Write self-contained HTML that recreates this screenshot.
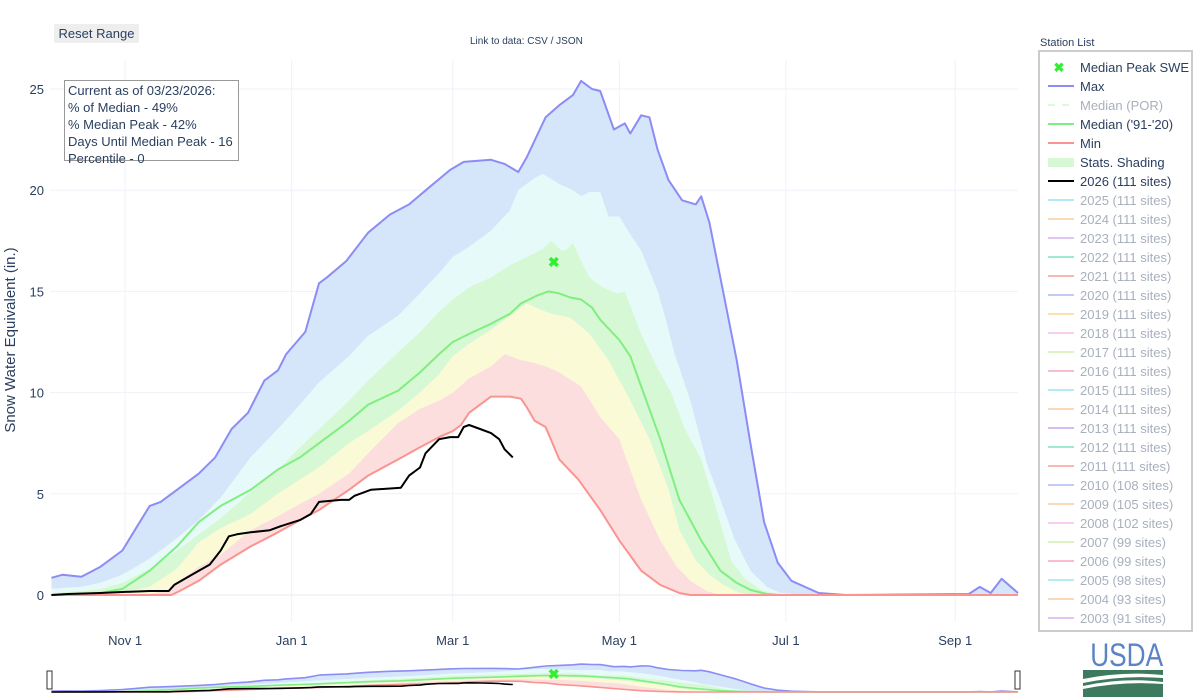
<!DOCTYPE html>
<html><head><meta charset="utf-8">
<style>
body{margin:0;background:#fff;font-family:"Liberation Sans",sans-serif;}
#wrap{position:relative;width:1200px;height:700px;overflow:hidden;}
svg text{font-family:"Liberation Sans",sans-serif;}
</style></head>
<body>
<div id="wrap">
<svg id="chart" width="1200" height="700"></svg>
</div>
<script>
// ---- data (day of water year, Oct 1 = day 0) ----
const maxDays=[4,8,15,22,30,35,40,44,50,58,64,70,76,82,87,90,97,102,105,112,120,128,135,142,150,155,165,170,175,178,185,190,195,198,202,205,210,214,216,220,223,226,230,235,240,242,245,250,255,260,265,270,275,285,295,340,344,348,352,358];
const maxVals=[0.85,1.0,0.9,1.4,2.2,3.3,4.4,4.6,5.2,6.0,6.8,8.2,9.0,10.6,11.1,11.9,13.0,15.4,15.7,16.5,17.9,18.8,19.3,20.1,21.0,21.4,21.5,21.3,20.9,21.6,23.6,24.2,24.7,25.4,25.0,24.9,23.0,23.3,22.8,23.7,23.6,22.0,20.5,19.5,19.3,19.7,18.4,15.0,11.6,7.5,3.6,1.6,0.7,0.1,0,0.05,0.4,0.1,0.8,0.1];
const p90Days=[4,15,22,30,40,50,58,66,77,87,95,102,113,120,131,139,146,151,157,165,172,175,181,184,190,195,198,201,205,208,212,216,220,226,229,232,238,244,249,254,260,266,271,280,358];
const p90Vals=[0.3,0.4,0.6,1.0,1.8,2.8,3.7,4.8,6.8,8.2,9.4,10.5,11.8,12.8,13.8,14.9,15.9,16.7,17.2,18.0,19.0,20.0,20.6,20.8,20.3,20.0,19.7,19.9,19.9,18.7,18.7,17.8,17.0,15.0,13.6,12.0,9.6,6.5,4.7,2.8,1.2,0.4,0.1,0,0];
const p70Days=[4,15,22,30,40,50,58,66,77,87,95,102,113,120,131,139,146,151,157,165,172,178,184,187,191,193,195,198,201,206,211,214,220,226,231,236,242,247,253,258,264,270,280,358];
const p70Vals=[0.1,0.2,0.3,0.6,1.3,2.2,3.0,3.8,5.1,6.2,7.3,8.2,9.6,10.6,12.0,13.0,14.0,14.6,15.2,15.7,16.3,16.7,17.1,17.5,17.0,17.1,17.4,16.5,15.7,15.2,14.9,15.0,12.9,11.2,10.0,8.2,6.7,4.5,1.7,0.8,0.25,0.05,0,0];
const medDays=[4,15,22,30,40,50,58,66,77,87,95,102,113,120,131,139,146,151,157,165,172,176,182,186,190,194,198,202,205,212,216,220,227,234,242,249,255,260,266,271,358];
const medVals=[0,0.05,0.1,0.3,1.2,2.4,3.6,4.4,5.2,6.2,6.8,7.5,8.6,9.4,10.1,11.0,11.9,12.5,12.9,13.4,13.9,14.4,14.8,15.0,14.9,14.7,14.6,14.2,13.6,12.6,11.8,10.3,7.7,4.7,2.7,1.2,0.6,0.25,0.05,0,0];
const p30Days=[4,22,30,40,50,58,66,77,87,95,102,113,120,131,139,146,151,157,165,172,178,183,187,194,201,208,216,223,230,234,240,245,250,256,262,358];
const p30Vals=[0,0.05,0.1,0.4,1.3,2.6,3.3,4.0,5.0,5.7,6.3,7.5,8.1,9.1,10.0,10.9,11.8,12.4,13.1,13.8,14.4,14.1,13.9,13.7,12.9,11.6,9.6,7.7,5.2,3.2,1.7,1.0,0.5,0.1,0,0];
const p10Days=[4,30,40,48,51,58,66,77,87,95,102,113,120,131,139,146,151,157,165,170,176,180,185,190,198,205,212,220,227,233,238,244,249,358];
const p10Vals=[0,0,0.05,0.3,0.7,1.4,2.0,3.2,3.9,4.5,5.0,6.0,7.0,8.5,9.2,9.6,10.0,10.7,11.3,11.9,11.6,11.5,11.3,11.0,10.3,8.8,7.7,4.7,2.7,1.4,0.7,0.2,0,0];
const minDays=[4,48,51,58,66,77,87,95,102,113,120,131,139,146,151,154,157,165,172,176,178,181,185,190,197,205,212,220,227,234,238,358];
const minVals=[0,0,0.2,0.7,1.5,2.4,3.1,3.7,4.2,5.2,5.9,6.7,7.3,7.8,8.1,8.4,9.0,9.8,9.8,9.7,9.3,8.6,8.3,6.7,5.7,4.2,2.7,1.2,0.5,0.1,0,0];
const curDays=[4,10,22,30,40,47,49,58,62,66,69,72,77,84,88,95,99,102,110,113,115,121,132,135,139,141,146,150,153,155,157,161,165,168,170,173];
const curVals=[0,0.05,0.1,0.15,0.2,0.2,0.5,1.2,1.5,2.2,2.9,3.0,3.1,3.2,3.4,3.7,4.0,4.6,4.7,4.7,4.9,5.2,5.3,5.9,6.3,7.0,7.7,7.8,7.8,8.3,8.4,8.2,8.0,7.7,7.2,6.8];
const peakDay=[188];
const peakVal=[16.45];
const yTicks=[0,5,10,15,20,25];
const xTickDays=[31,92,151,212,273,335];
const xTickLabels=["Nov  1","Jan  1","Mar  1","May  1","Jul  1","Sep  1"];
const legendLabels=["2025 (111 sites)","2024 (111 sites)","2023 (111 sites)","2022 (111 sites)","2021 (111 sites)","2020 (111 sites)","2019 (111 sites)","2018 (111 sites)","2017 (111 sites)","2016 (111 sites)","2015 (111 sites)","2014 (111 sites)","2013 (111 sites)","2012 (111 sites)","2011 (111 sites)","2010 (108 sites)","2009 (105 sites)","2008 (102 sites)","2007 (99 sites)","2006 (99 sites)","2005 (98 sites)","2004 (93 sites)","2003 (91 sites)"];
const legendColors=["#7fdcf5","#fbc08a","#c9a0f0","#5fdcb0","#f58a8a","#9aa8f5","#f8d27a","#f5b0e8","#c5ec9a","#f590b0","#7fe0f0","#fbc08a","#b890f5","#5fdcb0","#f58a8a","#9aa8f5","#fbc08a","#f5b0e8","#c5ec9a","#f590b0","#7fe0f0","#fbc08a","#c9a0f0"];

const NS="http://www.w3.org/2000/svg";
const svg=document.getElementById('chart');
function el(tag,attrs,parent){const e=document.createElementNS(NS,tag);for(const k in attrs)e.setAttribute(k,attrs[k]);(parent||svg).appendChild(e);return e;}
const X0=50,X1=1018,D0=3.5,D1=358;
function xs(d){return X0+(d-D0)/(D1-D0)*(X1-X0);}
function ys(v){return 595-v*20.24;}
function ysMini(v){return 692-v*1.1;}

yTicks.forEach(t=>{
  const g=el('line',{x1:X0,x2:X1,y1:ys(t),y2:ys(t),stroke:t===0?'#e4e9f0':'#eef2f7','stroke-width':1});
  
  
  const tx=el('text',{x:44,y:ys(t)+5,'text-anchor':'end','font-size':13,fill:'#2a3f5f'});
  tx.textContent=t;
  
  
});
xTickDays.forEach((d,i)=>{
  const g=el('line',{x1:xs(d),x2:xs(d),y1:60,y2:622,stroke:'#eef2f7','stroke-width':1});
  
  
  const tx=el('text',{x:xs(d),y:645,'text-anchor':'middle','font-size':13,fill:'#2a3f5f','xml:space':'preserve'});
  tx.textContent=xTickLabels[i];
  
  
});

function pts(days,vals,yf){return days.map((d,i)=>xs(Math.min(Math.max(d,D0),D1)).toFixed(1)+','+yf(vals[i]).toFixed(1));}
function band(uD,uV,lD,lV,color,name,yf){
  const p=pts(uD,uV,yf).concat(pts(lD,lV,yf).reverse());
  const e=el('polygon',{points:p.join(' '),fill:color,stroke:'none'});
  
  
}
function line(days,vals,color,w,name,yf){
  const e=el('polyline',{points:pts(days,vals,yf).join(' '),fill:'none',stroke:color,'stroke-width':w,'stroke-linejoin':'round'});
  
  
}
function drawAll(yf,sc){
  band(maxDays,maxVals,p90Days,p90Vals,'#d6e6fa','band-max-p90',yf);
  band(p90Days,p90Vals,p70Days,p70Vals,'#e6fafa','band-p90-p70',yf);
  band(p70Days,p70Vals,p30Days,p30Vals,'#d7f8d5','band-p70-p30',yf);
  band(p30Days,p30Vals,p10Days,p10Vals,'#fafad7','band-p30-p10',yf);
  band(p10Days,p10Vals,minDays,minVals,'#fcdede','band-p10-min',yf);
  line(maxDays,maxVals,'#8c8cf5',2*sc,'max-line',yf);
  line(medDays,medVals,'#80ee80',2*sc,'median-line',yf);
  line(minDays,minVals,'#f99490',2*sc,'min-line',yf);
  line(curDays,curVals,'#000',2*sc,'current-year-line',yf);
  peakDay.forEach((d,i)=>{
    const t=el('text',{x:xs(d),y:yf(peakVal[i])+5,'text-anchor':'middle','font-size':sc>0.7?14:11,'font-weight':'bold',fill:'#33ee33'});
    t.textContent='✖';
    
    
  });
}
drawAll(ys,1);

const rs=el('rect',{x:X0,y:660,width:X1-X0,height:34,fill:'#fff',stroke:'none'});


drawAll(ysMini,0.8);
[[X0-3,'range-handle-left'],[X1-3,'range-handle-right']].forEach(h=>{
  const r=el('rect',{x:h[0],y:671,width:5,height:18,fill:'#fff',stroke:'#333','stroke-width':1});
  
  
});

const yt=el('text',{x:15,y:340,'text-anchor':'middle','font-size':15,fill:'#2a3f5f',transform:'rotate(-90 15 340)'});
yt.textContent='Snow Water Equivalent (in.)';



const lg=document.createElementNS(NS,'g');


svg.appendChild(lg);
el('rect',{x:1039,y:51,width:153,height:580,fill:'#fff',stroke:'#ccc','stroke-width':2},lg);
const st=el('text',{x:1040,y:46,'font-size':11,fill:'#2a3f5f'},lg);
st.textContent='Station List';


const fixedLeg=[['Median Peak SWE','marker','#33ee33',false],['Max','line','#8c8cf5',false],['Median (POR)','dash','#c8f5c8',true],["Median ('91-'20)",'line','#80ee80',false],['Min','line','#f99490',false],['Stats. Shading','box','#d7f8d5',false],['2026 (111 sites)','line','#000',false]];
function legendEntry(i,label,type,color,faded){
  const y=67+i*19;
  const g=document.createElementNS(NS,'g');
  
  
  lg.appendChild(g);
  if(type==='marker'){const t=el('text',{x:1059,y:y+5,'text-anchor':'middle','font-size':13,'font-weight':'bold',fill:color},g);t.textContent='✖';}
  else if(type==='box'){el('rect',{x:1048,y:y-4,width:26,height:9,fill:color},g);}
  else{el('line',{x1:1048,x2:1074,y1:y,y2:y,stroke:color,'stroke-width':2,'stroke-dasharray':type==='dash'?'7,7':'none',opacity:faded?0.6:1},g);}
  const t=el('text',{x:1080,y:y+5,'font-size':13,fill:faded?'#a8b0bd':'#2a3f5f'},g);
  t.textContent=label;
}
fixedLeg.forEach((f,i)=>legendEntry(i,f[0],f[1],f[2],f[3]));
legendLabels.forEach((l,i)=>legendEntry(i+7,l,'line',legendColors[i],true));
</script>
<div style="position:absolute;left:54px;top:24px;width:85px;height:19px;background:#eee;border-radius:2px;font-size:13px;color:#2a3f5f;text-align:center;line-height:19px;">Reset Range</div>
<div style="position:absolute;left:470px;top:36px;font-size:10px;color:#2a3f5f;">Link to data: CSV / JSON</div>
<div style="position:absolute;left:64px;top:80px;width:175px;height:81px;border:1px solid #999;background:#fff;font-size:13px;color:#2a3f5f;line-height:17px;padding:1px 0 0 3px;box-sizing:border-box;">Current as of 03/23/2026:<br>% of Median - 49%<br>% Median Peak - 42%<br>Days Until Median Peak - 16<br>Percentile - 0</div>
<div style="position:absolute;left:1083px;top:640px;width:80px;height:58px;">
<div style="font-size:32px;line-height:30px;color:#5a84c4;font-family:'Liberation Sans Narrow','Liberation Sans',sans-serif;text-align:center;transform:scaleX(0.82);transform-origin:center;">USDA</div>
<svg width="80" height="27" style="display:block"><rect x="0" y="0" width="80" height="27" fill="#3e7a5e"/><path d="M0 9 Q40 1 80 5 L80 8 Q40 5 0 13Z" fill="#fff"/><path d="M0 16 Q40 7 80 12 L80 14 Q40 11 0 19Z" fill="#fff"/></svg>
</div>
</body></html>
